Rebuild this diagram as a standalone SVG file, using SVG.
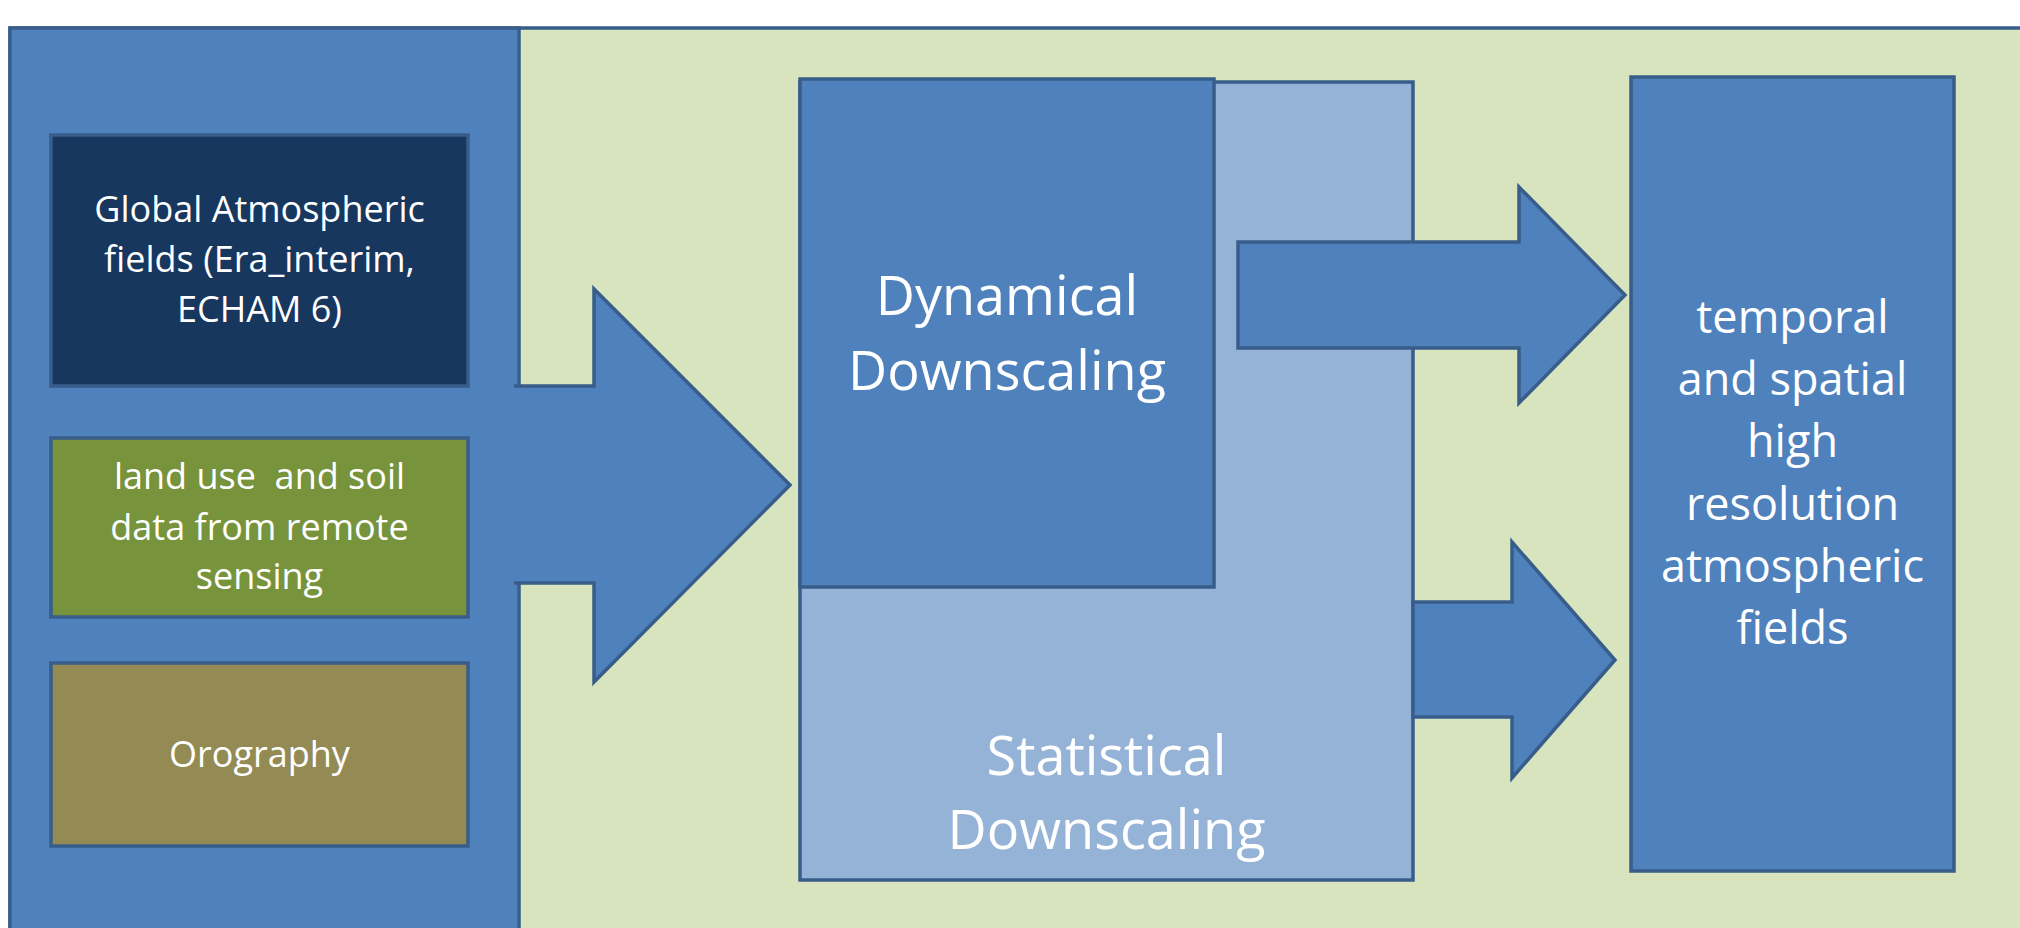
<svg xmlns="http://www.w3.org/2000/svg" width="2020" height="928" viewBox="0 0 2020 928">
<defs>
<style>
.stk{stroke:#385D8A;stroke-width:3.5;stroke-linejoin:miter}
.blue{fill:#4F81BD}
.t{font-family:"Open Sans","Liberation Sans",sans-serif;fill:#FFFFFF;text-anchor:middle}
.s36{font-size:36px}
.s54{font-size:54px}
.s45{font-size:45px}
</style>
</defs>
<rect width="2020" height="928" fill="#FFFFFF"/>
<g id="background">
<rect x="10" y="28" width="2040" height="930" fill="#D7E4BD" class="stk"/>
</g>
<g id="input-panel">
<rect x="10" y="28" width="509" height="930" class="blue stk"/>
</g>
<g id="global-fields">
<rect x="51" y="135" width="417" height="251" fill="#17375E" class="stk"/>
<text class="t s36" x="259.5" y="222">Global Atmospheric</text>
<text class="t s36" x="259.5" y="272">fields (Era_interim,</text>
<text class="t s36" x="259.5" y="322">ECHAM 6)</text>
</g>
<g id="land-use">
<rect x="51" y="438" width="417" height="179" fill="#77933C" class="stk"/>
<text class="t s36" x="259.5" y="489" xml:space="preserve">land use  and soil</text>
<text class="t s36" x="259.5" y="540">data from remote</text>
<text class="t s36" x="259.5" y="589">sensing</text>
</g>
<g id="orography">
<rect x="51" y="663" width="417" height="183" fill="#948A54" class="stk"/>
<text class="t s36" x="259.5" y="767">Orography</text>
</g>
<g id="statistical-downscaling">
<rect x="800" y="82" width="613" height="798" fill="#95B3D7" class="stk"/>
<text class="t s54" x="1106.5" y="775">Statistical</text>
<text class="t s54" x="1106.5" y="849">Downscaling</text>
</g>
<g id="dynamical-downscaling">
<rect x="800" y="79" width="414" height="508" class="blue stk"/>
<text class="t s54" x="1007" y="315">Dynamical</text>
<text class="t s54" x="1007" y="390">Downscaling</text>
</g>
<g id="output-fields">
<rect x="1631" y="77" width="323" height="794" class="blue stk"/>
<text class="t s45" x="1792.5" y="333">temporal</text>
<text class="t s45" x="1792.5" y="395">and spatial</text>
<text class="t s45" x="1792.5" y="457">high</text>
<text class="t s45" x="1792.5" y="520">resolution</text>
<text class="t s45" x="1792.5" y="582">atmospheric</text>
<text class="t s45" x="1792.5" y="644">fields</text>
</g>
<g id="connectors">
<path d="M514,386 H594 V289 L790,485 L594,682 V583 H514" class="blue stk"/>
<polygon points="1238,242 1519,242 1519,187 1625,295 1519,403 1519,348 1238,348" class="blue stk"/>
<polygon points="1413,602 1512,602 1512,542 1615,660 1512,778 1512,717 1413,717" class="blue stk"/>
</g>
</svg>
